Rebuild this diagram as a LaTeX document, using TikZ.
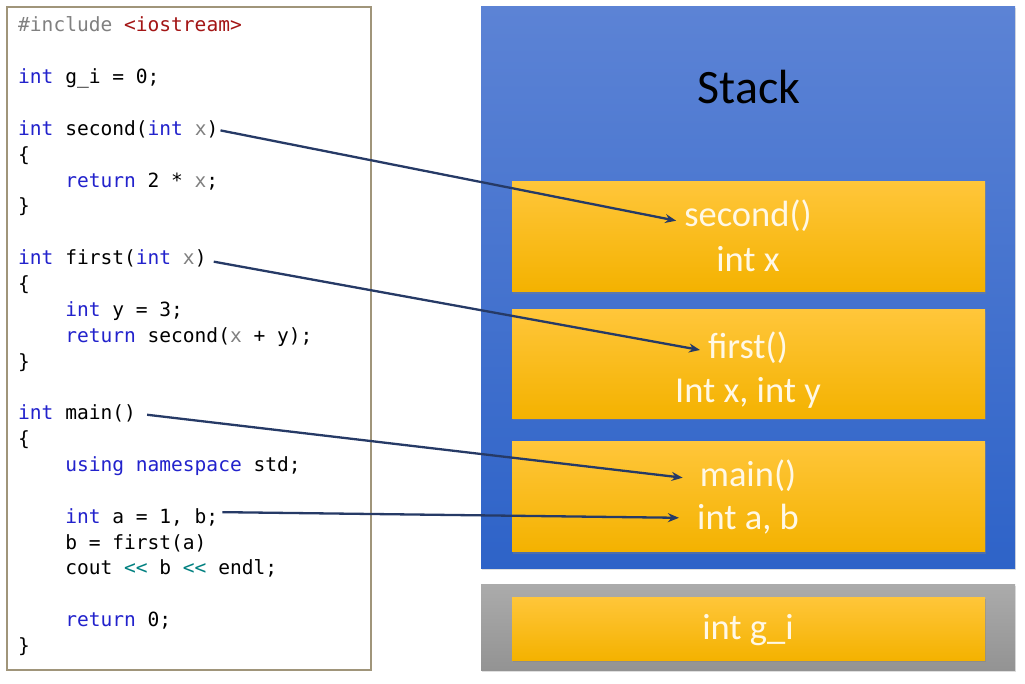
\documentclass[tikz,border=0pt]{standalone}
\usepackage{fontspec}
\setmainfont{Carlito}
\newfontfamily\codefont{DejaVu Sans Mono}[Ligatures=ResetAll]
\usetikzlibrary{arrows.meta,shadows}
\definecolor{ckwc}{HTML}{2222CC}
\definecolor{cgrc}{HTML}{808080}
\definecolor{cstrc}{HTML}{A31515}
\definecolor{copc}{HTML}{008080}
\definecolor{framec}{HTML}{A0957A}
\definecolor{linkc}{HTML}{263A66}
\definecolor{bluetop}{HTML}{5C83D5}
\definecolor{bluebot}{HTML}{2E63C8}
\definecolor{orgtop}{HTML}{FFC63A}
\definecolor{orgbot}{HTML}{F4B200}
\definecolor{graytop}{HTML}{ABABAB}
\definecolor{graybot}{HTML}{939393}
\definecolor{lblc}{HTML}{FFF8E6}
\newcommand\ckw[1]{\textcolor{ckwc}{#1}}
\newcommand\cgr[1]{\textcolor{cgrc}{#1}}
\newcommand\cstr[1]{\textcolor{cstrc}{#1}}
\newcommand\cop{\textcolor{copc}{<\kern0pt<}}
\begin{document}
\begin{tikzpicture}[x=1pt,y=-1pt,
  codeline/.style={anchor=base west, inner sep=0pt, font=\codefont\fontsize{19.55}{24}\selectfont},
  codeframe/.style={draw=framec, line width=1.6pt, fill=white, inner sep=0pt, minimum width=364pt, minimum height=663pt},
  stackbox/.style={inner sep=0pt, top color=bluetop, bottom color=bluebot, minimum width=534pt, minimum height=561pt,
     drop shadow={shadow xshift=1pt, shadow yshift=-1.5pt, opacity=0.25}},
  globalbox/.style={inner sep=0pt, top color=graytop, bottom color=graybot, minimum width=534pt, minimum height=86pt,
     drop shadow={shadow xshift=1pt, shadow yshift=-1.5pt, opacity=0.25}},
  framebox/.style={inner sep=0pt, top color=orgtop, bottom color=orgbot, minimum width=473pt,
     drop shadow={shadow xshift=1.2pt, shadow yshift=-2pt, opacity=0.4}},
  lbl/.style={anchor=base, inner sep=0pt, text=lblc, font=\fontsize{36.5}{44}\selectfont},
  link/.style={draw=linkc, line width=2.3pt, -{Stealth[length=11pt,width=9pt]}}
]
\useasboundingbox (0,0) rectangle (1025,684);

% code panel
\node[codeframe] (code) at (189,338.5) {};
\node[codeline] (c0)  at (18,32)     {\cgr{\#include} \cstr{<iostream>}};
\node[codeline] (c2)  at (18,83.7)   {\ckw{int} g\_i = 0;};
\node[codeline] (c4)  at (18,135.4)  {\ckw{int} second(\ckw{int} \cgr{x})};
\node[codeline] (c5)  at (18,161.25) {\{};
\node[codeline] (c6)  at (65.05,187.1)  {\ckw{return} 2 * \cgr{x};};
\node[codeline] (c7)  at (18,212.95) {\}};
\node[codeline] (c9)  at (18,264.65) {\ckw{int} first(\ckw{int} \cgr{x})};
\node[codeline] (c10) at (18,290.5)  {\{};
\node[codeline] (c11) at (65.05,316.35) {\ckw{int} y = 3;};
\node[codeline] (c12) at (65.05,342.2)  {\ckw{return} second(\cgr{x} + y);};
\node[codeline] (c13) at (18,368.05) {\}};
\node[codeline] (c15) at (18,419.75) {\ckw{int} main()};
\node[codeline] (c16) at (18,445.6)  {\{};
\node[codeline] (c17) at (65.05,471.45) {\ckw{using} \ckw{namespace} std;};
\node[codeline] (c19) at (65.05,523.15) {\ckw{int} a = 1, b;};
\node[codeline] (c20) at (65.05,549)    {b = first(a)};
\node[codeline] (c21) at (65.05,574.85) {cout \cop{} b \cop{} endl;};
\node[codeline] (c23) at (65.05,626.55) {\ckw{return} 0;};
\node[codeline] (c24) at (18,652.4)  {\}};

% stack
\node[stackbox] (stack) at (748,287.5) {};
\node[anchor=base, inner sep=0pt, font=\fontsize{48}{56}\selectfont] (stacklbl) at (749,104) {Stack};
\node[framebox, minimum height=110pt] (f1) at (748.5,236.7) {};
\node[framebox, minimum height=108pt] (f2) at (748.5,364) {};
\node[framebox, minimum height=110pt] (f3) at (748.5,496.7) {};
\node[lbl] (s1) at (748,226.7) {second()};
\node[lbl] (s2) at (748,271.7) {int x};
\node[lbl] (t1) at (748,359)   {first()};
\node[lbl] (t2) at (748,402)   {Int x, int y};
\node[lbl] (m1) at (748,486.7) {main()};
\node[lbl] (m2) at (748,529.3) {int a, b};

% globals
\node[globalbox] (glob) at (748,627.5) {};
\node[framebox, minimum height=63pt] (f4) at (748.5,628.5) {};
\node[lbl] (g1) at (748,639) {int g\_i};

% connectors
\draw[link] ([xshift=2pt,yshift=5pt]c4.base east) -- ([xshift=-8pt,yshift=6pt]s1.base west);
\draw[link] ([xshift=7pt,yshift=3pt]c9.base east) -- ([xshift=-8pt,yshift=9pt]t1.base west);
\draw[link] ([xshift=11pt,yshift=5pt]c15.base east) -- ([xshift=-17pt,yshift=9pt]m1.base west);
\draw[link] ([xshift=4pt,yshift=11pt]c19.base east) -- ([xshift=-18pt,yshift=11.5pt]m2.base west);
\end{tikzpicture}
\end{document}
